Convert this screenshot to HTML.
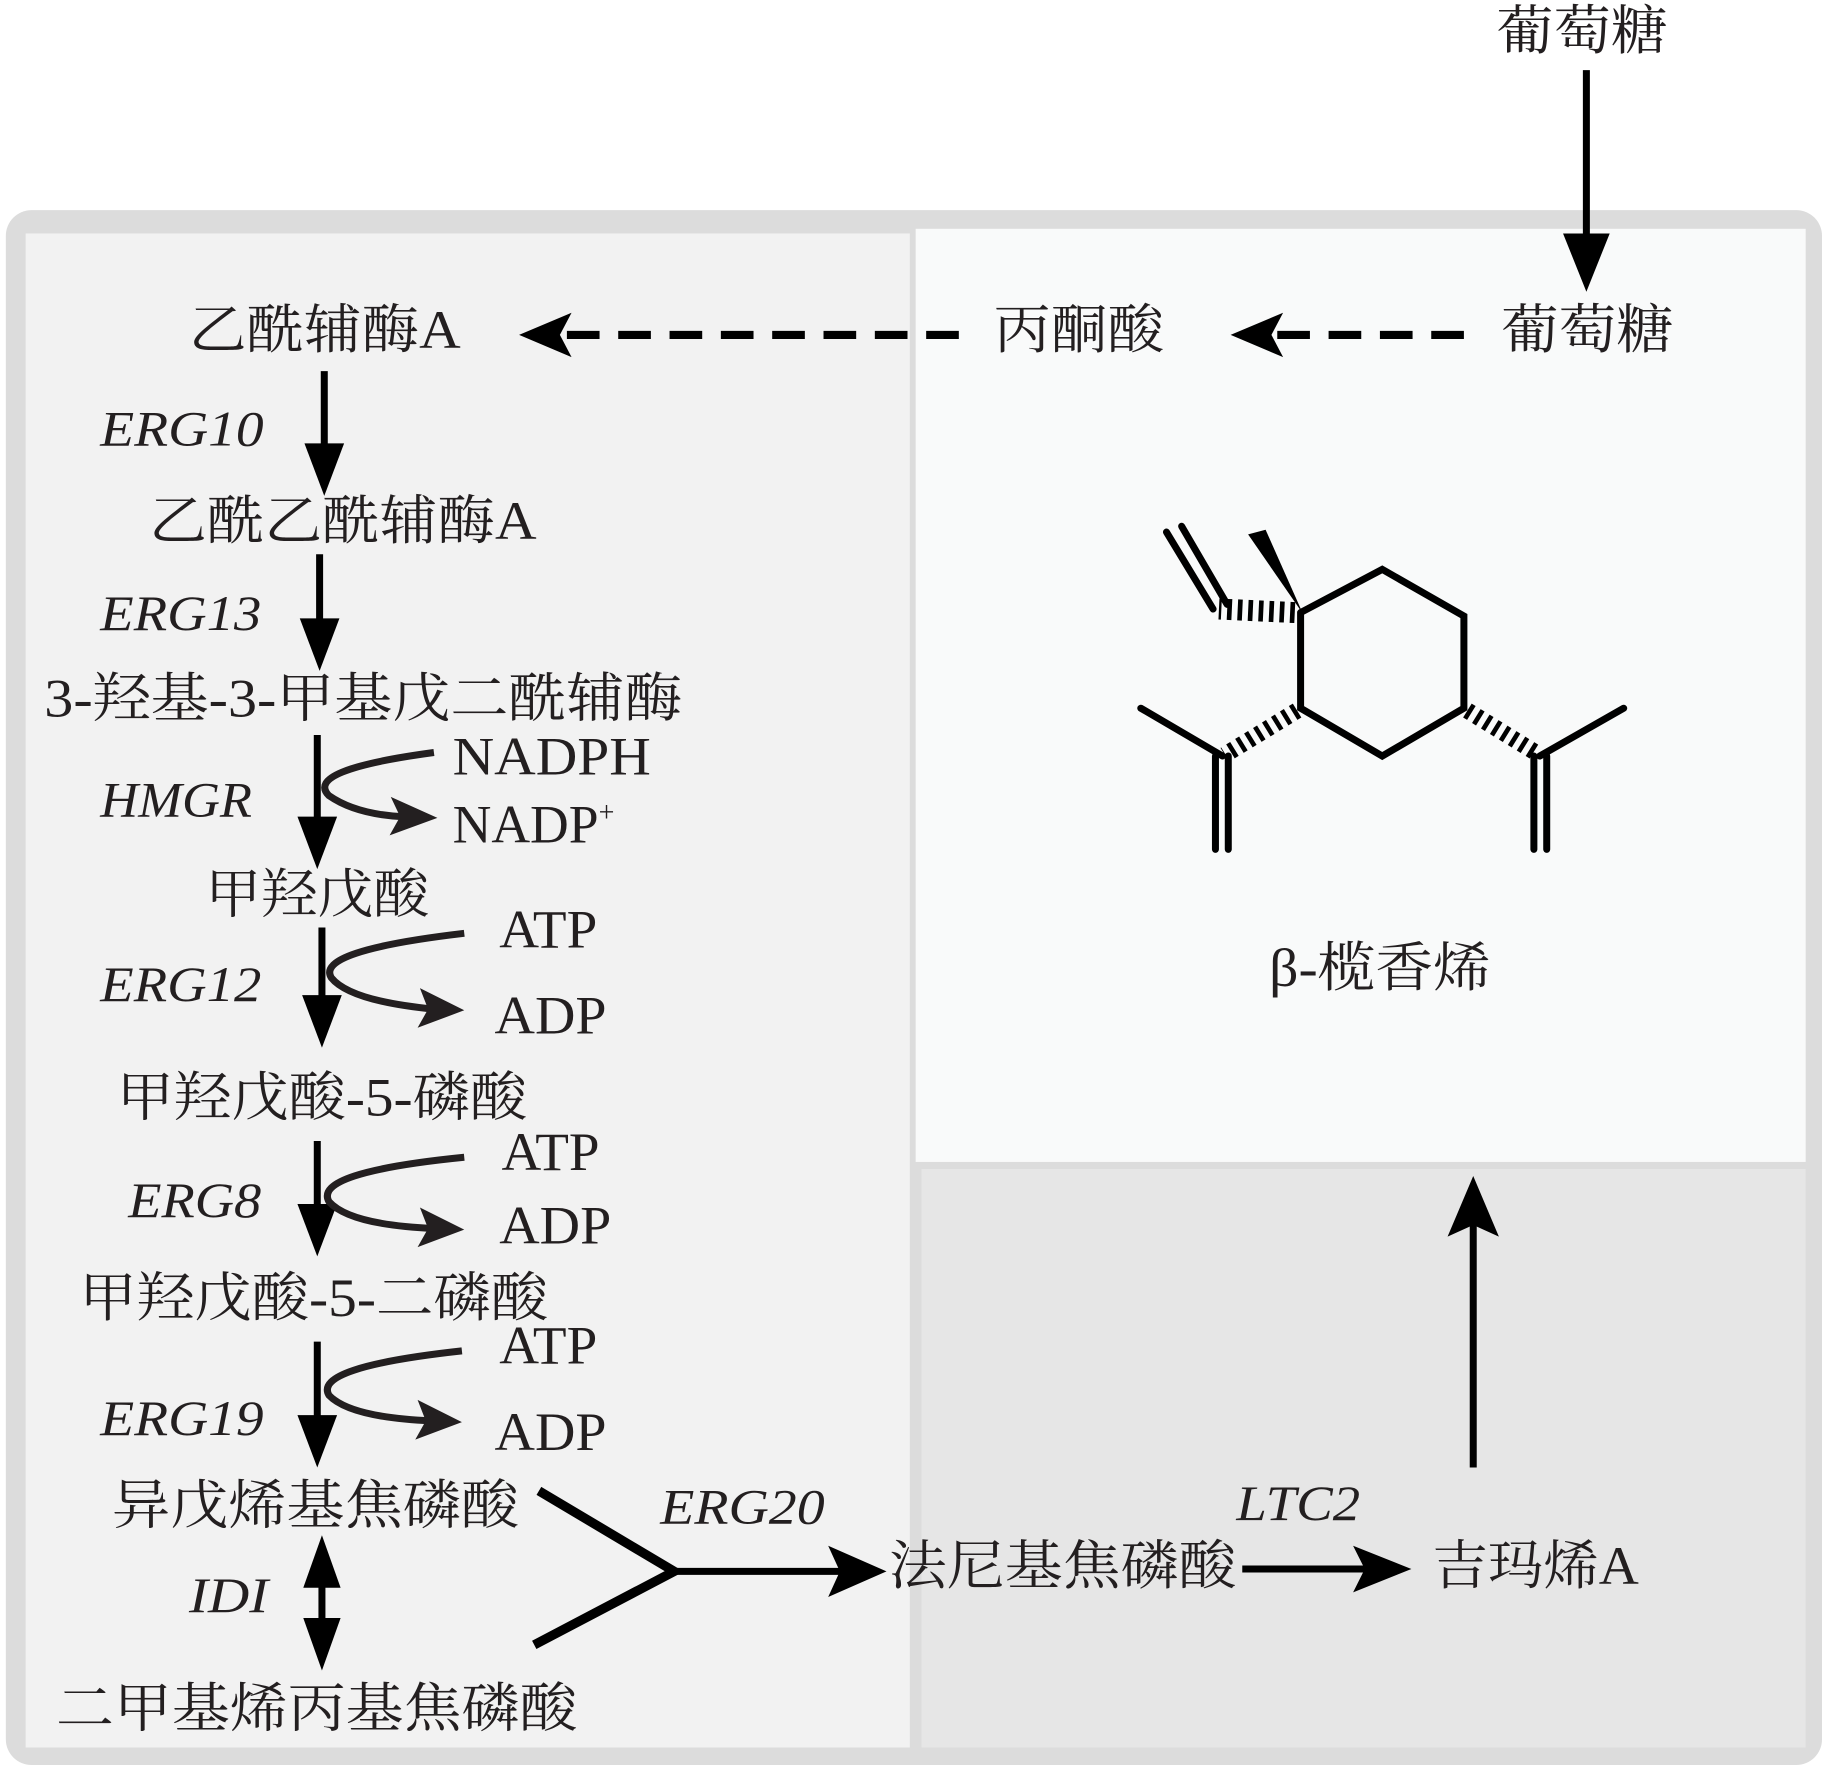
<!DOCTYPE html>
<html><head><meta charset="utf-8"><style>
html,body{margin:0;padding:0;background:#fff}
svg{display:block}
text{font-family:"Liberation Serif","Noto Serif CJK SC",serif;fill:#231f20}
.c{font-size:46px}
.i{font-size:43px;font-style:italic}
</style></head><body>
<svg width="1829" height="1771" viewBox="0 0 1568 1518" xmlns="http://www.w3.org/2000/svg">
<rect x="5" y="180" width="1557" height="1333" rx="22" fill="#dcdcdc"/>
<rect x="22" y="200" width="758" height="1298" fill="#f2f2f2"/>
<rect x="785" y="196" width="763" height="800" fill="#f9fafa"/>
<rect x="790" y="1002" width="758" height="496" fill="#e6e6e6"/>
<g fill="#000" stroke="#000" stroke-width="6">
<line x1="1360" y1="60" x2="1360" y2="210"/>
<path d="M1340,200 L1360,250 L1380,200 Z" stroke="none"/>
<line x1="1255" y1="287" x2="1090" y2="287" stroke-dasharray="28 16" stroke-width="7"/>
<path d="M1100,268 L1055,287 L1100,306 L1090,287Z" stroke="none"/>
<line x1="822" y1="287" x2="480" y2="287" stroke-dasharray="28 16" stroke-width="7"/>
<path d="M490,268 L445,287 L490,306 L480,287Z" stroke="none"/>
<line x1="278" y1="318" x2="278" y2="385"/><path d="M261,380 L278,425 L295,380Z" stroke="none"/>
<line x1="274" y1="475" x2="274" y2="535"/><path d="M257,530 L274,575 L291,530Z" stroke="none"/>
<line x1="272" y1="630" x2="272" y2="705"/><path d="M255,700 L272,745 L289,700Z" stroke="none"/>
<line x1="276" y1="795" x2="276" y2="858"/><path d="M259,853 L276,898 L293,853Z" stroke="none"/>
<line x1="272" y1="978" x2="272" y2="1037"/><path d="M255,1032 L272,1077 L289,1032Z" stroke="none"/>
<line x1="272" y1="1150" x2="272" y2="1218"/><path d="M255,1213 L272,1258 L289,1213Z" stroke="none"/>
<line x1="276" y1="1350" x2="276" y2="1400"/>
<path d="M260,1361 L276,1316 L292,1361Z" stroke="none"/>
<path d="M260,1387 L276,1432 L292,1387Z" stroke="none"/>
<polyline points="462,1278 578,1347 458,1410" fill="none" stroke-width="8"/>
<line x1="578" y1="1347" x2="730" y2="1347"/><path d="M710,1325 L760,1347 L710,1369 L720,1347Z" stroke="none"/>
<line x1="1065" y1="1345" x2="1175" y2="1345"/><path d="M1160,1325 L1210,1345 L1160,1365 L1170,1345Z" stroke="none"/>
<line x1="1263" y1="1258" x2="1263" y2="1050"/><path d="M1241,1060 L1263,1008 L1285,1060 L1263,1050Z" stroke="none"/>
</g>
<g fill="none" stroke="#231f20" stroke-width="6">
<path d="M372,645 Q260,660 282,682 Q305,698 345,700"/>
<path d="M398,800 Q270,815 284,838 Q300,858 372,865"/>
<path d="M398,992 Q268,1005 282,1030 Q300,1050 372,1053"/>
<path d="M396,1158 Q268,1172 282,1196 Q300,1215 370,1218"/>
</g>
<g fill="#231f20">
<path d="M335,683 L375,701 L334,716 L343,700Z"/>
<path d="M360,847 L398,866 L358,881 L367,865Z"/>
<path d="M360,1035 L398,1054 L358,1069 L367,1053Z"/>
<path d="M358,1200 L396,1219 L356,1234 L365,1218Z"/>
</g>
<g stroke="#000" stroke-width="6" fill="none" stroke-linecap="round">
<polyline points="1115,525 1185,488 1255,528 1255,607 1185,648 1115,607 1115,525"/>
<line x1="1040" y1="522" x2="1000" y2="456"/>
<line x1="1052" y1="518" x2="1013" y2="451"/>
<line x1="978" y1="607" x2="1048" y2="648"/>
<line x1="1042" y1="648" x2="1042" y2="728"/><line x1="1053" y1="648" x2="1053" y2="728"/>
<line x1="1392" y1="607" x2="1320" y2="648"/>
<line x1="1315" y1="648" x2="1315" y2="728"/><line x1="1326" y1="648" x2="1326" y2="728"/>
</g>
<path d="M1070,458 L1085,454 L1117,526Z" fill="#000"/>
<g stroke="#000" stroke-width="14" stroke-dasharray="4 5" fill="none">
<path d="M1110,525 L1045,522" stroke-width="18"/>
<path d="M1112,609 L1050,647"/>
<path d="M1258,609 L1318,646"/>
</g>
<g lengthAdjust="spacingAndGlyphs">
<text class="c" x="1283" y="42" textLength="147" lengthAdjust="spacingAndGlyphs">葡萄糖</text>
<text class="c" x="1287" y="298" textLength="148" lengthAdjust="spacingAndGlyphs">葡萄糖</text>
<text class="c" x="852" y="298" textLength="146" lengthAdjust="spacingAndGlyphs">丙酮酸</text>
<text class="c" x="162" y="298" textLength="233" lengthAdjust="spacingAndGlyphs">乙酰辅酶A</text>
<text class="i" x="86" y="382" textLength="140" lengthAdjust="spacingAndGlyphs">ERG10</text>
<text class="c" x="128" y="462" textLength="332" lengthAdjust="spacingAndGlyphs">乙酰乙酰辅酶A</text>
<text class="i" x="86" y="540" textLength="138" lengthAdjust="spacingAndGlyphs">ERG13</text>
<text class="c" x="38" y="614" textLength="547" lengthAdjust="spacingAndGlyphs">3-羟基-3-甲基戊二酰辅酶</text>
<text class="i" x="86" y="700" textLength="130" lengthAdjust="spacingAndGlyphs">HMGR</text>
<text class="c" x="388" y="664" textLength="170" lengthAdjust="spacingAndGlyphs">NADPH</text>
<text class="c" x="388" y="722">NADP<tspan font-size="24" dy="-18">+</tspan></text>
<text class="c" x="176" y="782" textLength="192" lengthAdjust="spacingAndGlyphs">甲羟戊酸</text>
<text class="c" x="428" y="812" textLength="84" lengthAdjust="spacingAndGlyphs">ATP</text>
<text class="i" x="86" y="858" textLength="138" lengthAdjust="spacingAndGlyphs">ERG12</text>
<text class="c" x="424" y="886" textLength="96" lengthAdjust="spacingAndGlyphs">ADP</text>
<text class="c" x="100" y="956" textLength="352" lengthAdjust="spacingAndGlyphs">甲羟戊酸-5-磷酸</text>
<text class="c" x="430" y="1003" textLength="84" lengthAdjust="spacingAndGlyphs">ATP</text>
<text class="i" x="110" y="1043" textLength="114" lengthAdjust="spacingAndGlyphs">ERG8</text>
<text class="c" x="428" y="1066" textLength="96" lengthAdjust="spacingAndGlyphs">ADP</text>
<text class="c" x="68" y="1128" textLength="402" lengthAdjust="spacingAndGlyphs">甲羟戊酸-5-二磷酸</text>
<text class="c" x="428" y="1169" textLength="84" lengthAdjust="spacingAndGlyphs">ATP</text>
<text class="i" x="86" y="1230" textLength="140" lengthAdjust="spacingAndGlyphs">ERG19</text>
<text class="c" x="424" y="1243" textLength="96" lengthAdjust="spacingAndGlyphs">ADP</text>
<text class="c" x="96" y="1306" textLength="349" lengthAdjust="spacingAndGlyphs">异戊烯基焦磷酸</text>
<text class="i" x="566" y="1306" textLength="141" lengthAdjust="spacingAndGlyphs">ERG20</text>
<text class="i" x="162" y="1382" textLength="68" lengthAdjust="spacingAndGlyphs">IDI</text>
<text class="c" x="48" y="1480" textLength="447" lengthAdjust="spacingAndGlyphs">二甲基烯丙基焦磷酸</text>
<text class="c" x="762" y="1358" textLength="298" lengthAdjust="spacingAndGlyphs">法尼基焦磷酸</text>
<text class="i" x="1060" y="1303" textLength="106" lengthAdjust="spacingAndGlyphs">LTC2</text>
<text class="c" x="1228" y="1358" textLength="177" lengthAdjust="spacingAndGlyphs">吉玛烯A</text>
<text class="c" x="1088" y="845" textLength="190" lengthAdjust="spacingAndGlyphs">β-榄香烯</text>
</g>
</svg>
</body></html>
